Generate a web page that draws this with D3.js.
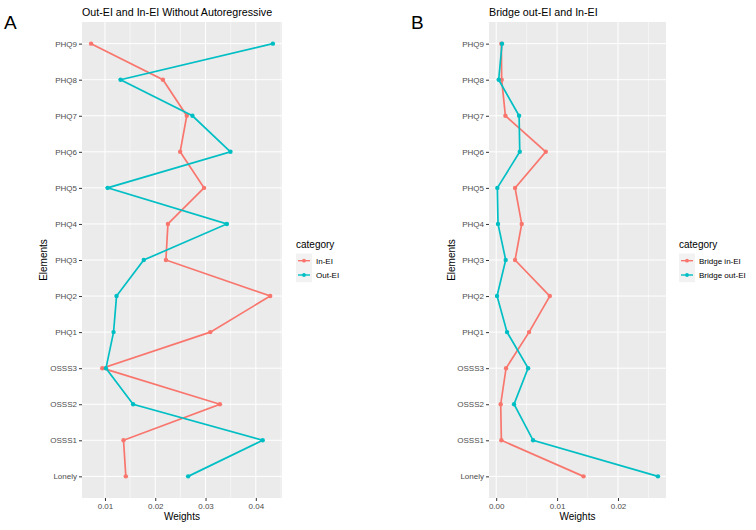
<!DOCTYPE html>
<html>
<head>
<meta charset="utf-8">
<script src="https://cdn.jsdelivr.net/npm/d3@7"></script>
<style>
  body { margin: 0; background: #fff; }
  text { font-family: "Liberation Sans", Arial, sans-serif; }
</style>
</head>
<body>
<div id="chart"></div>
<script>
// values, top row (PHQ9) to bottom row (Lonely)
const elements = ['PHQ9', 'PHQ8', 'PHQ7', 'PHQ6', 'PHQ5', 'PHQ4', 'PHQ3',
  'PHQ2', 'PHQ1', 'OSSS3', 'OSSS2', 'OSSS1', 'Lonely'];

const inEI = [0.00724, 0.02153, 0.02627, 0.02495, 0.0297, 0.02252, 0.02212,
  0.04287, 0.03095, 0.00947, 0.03286, 0.01369, 0.01415];
const outEI = [0.0434, 0.0131, 0.02739, 0.03496, 0.01053, 0.03424, 0.01771,
  0.0123, 0.01171, 0.0102, 0.0156, 0.04136, 0.02654];

const bridgeIn = [0.00085, 0.0009, 0.00151, 0.00814, 0.0031, 0.00419, 0.0031,
  0.0088, 0.0054, 0.00162, 0.00074, 0.00085, 0.01434];
const bridgeOut = [0.00096, 0.00041, 0.00376, 0.00387, 0.00019, 0.0003, 0.00156,
  0.00014, 0.00178, 0.00524, 0.00293, 0.00606, 0.02656];

const ticksA = [0.01, 0.02, 0.03, 0.04];
const ticksB = [0, 0.01, 0.02];

const red = '#F8766D';
const cyan = '#00BFC4';

const width = 756;
const height = 530;
const panelTop = 22;
const panelBottom = 498;

const svg = d3.select('#chart')
  .append('svg')
  .attr('width', width)
  .attr('height', height);

const drawPanel = (p) => {
  const all = p.series.flatMap((s) => s.values);
  const lo = d3.min(all);
  const hi = d3.max(all);
  const pad = (hi - lo) * 0.05;

  const x = d3.scaleLinear()
    .domain([lo - pad, hi + pad])
    .range([p.left, p.right]);
  const y = d3.scalePoint()
    .domain(elements)
    .range([panelTop, panelBottom])
    .padding(0.6);

  // panel background
  svg.append('rect')
    .attr('x', p.left)
    .attr('y', panelTop)
    .attr('width', p.right - p.left)
    .attr('height', panelBottom - panelTop)
    .attr('fill', '#EBEBEB');

  // grid
  const step = p.ticks[1] - p.ticks[0];
  const minor = [p.ticks[0] - step / 2, ...p.ticks.map((t) => t + step / 2)]
    .filter((t) => t > x.domain()[0] && t < x.domain()[1]);
  const grid = svg.append('g').attr('stroke', '#fff');
  grid.selectAll('.minor')
    .data(minor)
    .enter()
    .append('line')
    .attr('x1', (d) => x(d))
    .attr('x2', (d) => x(d))
    .attr('y1', panelTop)
    .attr('y2', panelBottom)
    .attr('stroke-width', 0.5);
  grid.selectAll('.major')
    .data(p.ticks)
    .enter()
    .append('line')
    .attr('x1', (d) => x(d))
    .attr('x2', (d) => x(d))
    .attr('y1', panelTop)
    .attr('y2', panelBottom)
    .attr('stroke-width', 1);
  grid.selectAll('.hline')
    .data(elements)
    .enter()
    .append('line')
    .attr('x1', p.left)
    .attr('x2', p.right)
    .attr('y1', (d) => y(d))
    .attr('y2', (d) => y(d))
    .attr('stroke-width', 1);

  // series
  p.series.forEach((s) => {
    const pts = elements.map((e, i) => [x(s.values[i]), y(e)]);
    svg.append('path')
      .attr('d', d3.line()(pts))
      .attr('fill', 'none')
      .attr('stroke', s.color)
      .attr('stroke-width', 1.7);
    svg.append('g')
      .selectAll('circle')
      .data(pts)
      .enter()
      .append('circle')
      .attr('cx', (d) => d[0])
      .attr('cy', (d) => d[1])
      .attr('r', 2.2)
      .attr('fill', s.color);
  });

  // axes
  const xAxis = d3.axisBottom(x)
    .tickValues(p.ticks)
    .tickFormat(d3.format('.2f'))
    .tickSize(3)
    .tickPadding(2);
  const yAxis = d3.axisLeft(y)
    .tickSize(3)
    .tickPadding(2);

  const xg = svg.append('g')
    .attr('transform', `translate(0 ${panelBottom})`)
    .call(xAxis);
  const yg = svg.append('g')
    .attr('transform', `translate(${p.left} 0)`)
    .call(yAxis);

  [xg, yg].forEach((g) => {
    g.select('.domain').remove();
    g.selectAll('line').attr('stroke', '#333');
    g.selectAll('text')
      .attr('fill', '#4D4D4D')
      .style('font-size', '8px')
      .style('font-family', '"Liberation Sans", Arial, sans-serif');
  });

  // titles
  svg.append('text')
    .attr('x', p.left)
    .attr('y', 15.7)
    .style('font-size', '10.7px')
    .text(p.title);

  svg.append('text')
    .attr('x', p.panelX)
    .attr('y', 29)
    .style('font-size', '19px')
    .text(p.letter);

  svg.append('text')
    .attr('x', (p.left + p.right) / 2)
    .attr('y', 520)
    .attr('text-anchor', 'middle')
    .style('font-size', '10px')
    .text('Weights');

  svg.append('text')
    .attr('transform', `translate(${p.yLabelX} ${(panelTop + panelBottom) / 2})rotate(-90)`)
    .attr('text-anchor', 'middle')
    .style('font-size', '10px')
    .text('Elements');

  // legend
  const legend = svg.append('g')
    .attr('transform', `translate(${p.legendX} 0)`);
  legend.append('text')
    .attr('x', 0)
    .attr('y', 248)
    .style('font-size', '10px')
    .text('category');
  p.series.forEach((s, i) => {
    const cy = 260.7 + i * 14.3;
    legend.append('rect')
      .attr('x', 0)
      .attr('y', cy - 7.15)
      .attr('width', 16)
      .attr('height', 14.3)
      .attr('fill', '#F2F2F2');
    legend.append('line')
      .attr('x1', 2)
      .attr('x2', 14)
      .attr('y1', cy)
      .attr('y2', cy)
      .attr('stroke', s.color)
      .attr('stroke-width', 1.4);
    legend.append('circle')
      .attr('cx', 8)
      .attr('cy', cy)
      .attr('r', 1.9)
      .attr('fill', s.color);
    legend.append('text')
      .attr('x', 20)
      .attr('y', cy + 3)
      .style('font-size', '8px')
      .text(s.name);
  });
};

drawPanel({
  left: 82,
  right: 282,
  ticks: ticksA,
  title: 'Out-EI and In-EI Without Autoregressive',
  letter: 'A',
  panelX: 4,
  yLabelX: 47,
  legendX: 296,
  series: [
    { name: 'In-EI', values: inEI, color: red },
    { name: 'Out-EI', values: outEI, color: cyan },
  ],
});

drawPanel({
  left: 489,
  right: 666,
  ticks: ticksB,
  title: 'Bridge out-EI and In-EI',
  letter: 'B',
  panelX: 411,
  yLabelX: 455,
  legendX: 679,
  series: [
    { name: 'Bridge in-EI', values: bridgeIn, color: red },
    { name: 'Bridge out-EI', values: bridgeOut, color: cyan },
  ],
});
</script>
</body>
</html>
